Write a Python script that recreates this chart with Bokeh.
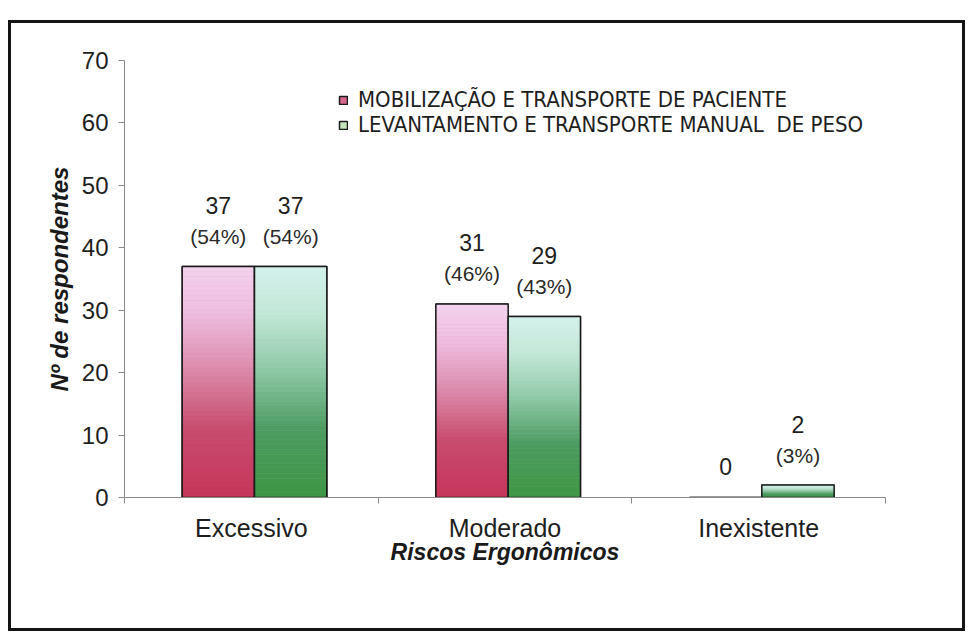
from bokeh.plotting import figure
from bokeh.models import (ColumnDataSource, LabelSet, FixedTicker,
                          Legend, LegendItem, Range1d)
from bokeh.core.properties import value
from bokeh.embed import file_html
from bokeh.resources import INLINE

# ---------------- data ----------------
categories = ["Excessivo", "Moderado", "Inexistente"]
mobilizacao = [37, 31, 0]
levantamento = [37, 29, 2]
pct_mobilizacao = [54, 46, 0]
pct_levantamento = [54, 43, 3]
series_names = ["MOBILIZAÇÃO E TRANSPORTE DE PACIENTE",
                "LEVANTAMENTO E TRANSPORTE MANUAL  DE PESO"]
y_ticks = [0, 10, 20, 30, 40, 50, 60, 70]
x_title = "Riscos Ergonômicos"
y_title = "Nº de respondentes"

# ---------------- styling ----------------
FONT = "Liberation Sans"
LEG_FONT = "DejaVu Sans Condensed"
pink_stops = [(0.0, "#c6365a"), (0.3, "#c84c6e"), (0.55, "#dc8aaa"),
              (0.8, "#eebde0"), (1.0, "#f4d2ee")]
green_stops = [(0.0, "#3e9644"), (0.3, "#4d9c62"), (0.55, "#8ec8a6"),
               (0.8, "#c3e8d8"), (1.0, "#d4f1ec")]
legend_colors = ["#d4678a", "#c4e4bc"]


def hex2rgb(h):
    h = h.lstrip("#")
    return tuple(int(h[i:i + 2], 16) for i in (0, 2, 4))


def color_at(stops, f):
    for (f0, c0), (f1, c1) in zip(stops[:-1], stops[1:]):
        if f <= f1:
            t = (f - f0) / (f1 - f0) if f1 > f0 else 0
            a, b = hex2rgb(c0), hex2rgb(c1)
            return "#%02x%02x%02x" % tuple(int(round(a[k] + (b[k] - a[k]) * t)) for k in range(3))
    return stops[-1][1]


N = 48
BAR_W = 0.285
pink_x = [i + 0.5 - 0.13 for i in range(len(categories))]
green_x = [i + 0.5 + 0.155 for i in range(len(categories))]


def gradient_source(xs, vals, stops):
    d = dict(x=[], b=[], t=[], c=[])
    for xi, v in zip(xs, vals):
        if v <= 0:
            continue
        for i in range(N):
            d["x"].append(xi)
            d["b"].append(v * i / N)
            d["t"].append(v * (i + 1) / N)
            d["c"].append(color_at(stops, (i + 0.5) / N))
    return ColumnDataSource(d)


M_TOP, M_LEFT = 17, 5
W, H = 963, 617
p = figure(width=W, height=H, output_backend="svg", toolbar_location=None,
           x_range=Range1d(0, 3), y_range=Range1d(0, 70),
           min_border_left=124 - M_LEFT, min_border_right=W - (885 - M_LEFT),
           min_border_top=60 - M_TOP, min_border_bottom=H - (497 - M_TOP),
           background_fill_color=None, border_fill_color=None,
           outline_line_color=None)
p.margin = (M_TOP, 0, 0, M_LEFT)
p.grid.visible = False
# outer frame of the chart (the canvas is transparent, so the frame shows through)
p.styles = {"outline": "3px solid #151515", "outline-offset": "-6px",
            "background-color": "white"}

base_renderers = []
for xs, vals, stops, lc in ((pink_x, mobilizacao, pink_stops, legend_colors[0]),
                            (green_x, levantamento, green_stops, legend_colors[1])):
    base = p.vbar(x=xs, top=vals, width=BAR_W, fill_color=lc,
                  line_color="#1a1a1a", line_width=1.5)
    src = gradient_source(xs, vals, stops)
    p.vbar(x="x", bottom="b", top="t", width=BAR_W, source=src,
           fill_color="c", line_color="c", line_width=0.6)
    p.vbar(x=xs, top=vals, width=BAR_W, fill_color=None,
           line_color="#1a1a1a", line_width=1.5)
    base_renderers.append(base)

# value labels
lab = dict(x=[], y=[], num=[], pct=[], off_num=[])
for xs, vals, pcts in ((pink_x, mobilizacao, pct_mobilizacao), (green_x, levantamento, pct_levantamento)):
    for xi, v, pc in zip(xs, vals, pcts):
        lab["x"].append(xi)
        lab["y"].append(v)
        lab["num"].append(str(v))
        lab["pct"].append("(%d%%)" % pc if v > 0 else "")
        lab["off_num"].append(61 if v > 0 else 31)
lsrc = ColumnDataSource(lab)
p.add_layout(LabelSet(x="x", y="y", text="num", source=lsrc, y_offset="off_num",
                      text_align="center", text_baseline="middle",
                      text_font=value(FONT), text_font_size=value("23px"),
                      text_color="#1e1e1e"))
p.add_layout(LabelSet(x="x", y="y", text="pct", source=lsrc, y_offset=30,
                      text_align="center", text_baseline="middle",
                      text_font=value(FONT), text_font_size=value("21px"),
                      text_color="#2a2a2a"))

# axes
ya = p.yaxis[0]
ya.ticker = FixedTicker(ticks=y_ticks)
ya.axis_line_color = "#8a8a8a"
ya.major_tick_line_color = "#8a8a8a"
ya.major_tick_out = 6
ya.major_tick_in = 0
ya.minor_tick_line_color = None
ya.major_label_text_font = FONT
ya.major_label_text_font_size = "24px"
ya.major_label_text_color = "#1e1e1e"
ya.major_label_standoff = 10
ya.axis_label = y_title
ya.axis_label_text_font = FONT
ya.axis_label_text_font_style = "bold italic"
ya.axis_label_text_font_size = "24px"
ya.axis_label_text_color = "#1a1a1a"
ya.axis_label_standoff = 6

xa = p.xaxis[0]
xa.ticker = FixedTicker(ticks=[i + 0.5 for i in range(len(categories))],
                        minor_ticks=list(range(len(categories) + 1)))
xa.major_label_overrides = {i + 0.5: c for i, c in enumerate(categories)}
xa.axis_line_color = "#8a8a8a"
xa.major_tick_line_color = None
xa.major_tick_out = 0
xa.minor_tick_line_color = "#8a8a8a"
xa.minor_tick_out = 6
xa.minor_tick_in = 0
xa.major_label_text_font = FONT
xa.major_label_text_font_size = "25px"
xa.major_label_text_color = "#1e1e1e"
xa.major_label_standoff = 10
xa.axis_label = x_title
xa.axis_label_text_font = FONT
xa.axis_label_text_font_style = "bold italic"
xa.axis_label_text_font_size = "23px"
xa.axis_label_text_color = "#1a1a1a"
xa.axis_label_standoff = -6

# legend
legend = Legend(items=[LegendItem(label=series_names[0], renderers=[base_renderers[0]], index=0),
                       LegendItem(label=series_names[1], renderers=[base_renderers[1]], index=0)],
                location=(214, 360), orientation="vertical",
                border_line_color=None, background_fill_alpha=0,
                label_text_font=LEG_FONT, label_text_font_size="22px",
                label_text_color="#1e1e1e", glyph_width=10, glyph_height=10,
                label_standoff=10, spacing=0, padding=0, margin=0, label_height=24)
p.add_layout(legend)

open("out.html", "w").write(file_html(p, INLINE))
